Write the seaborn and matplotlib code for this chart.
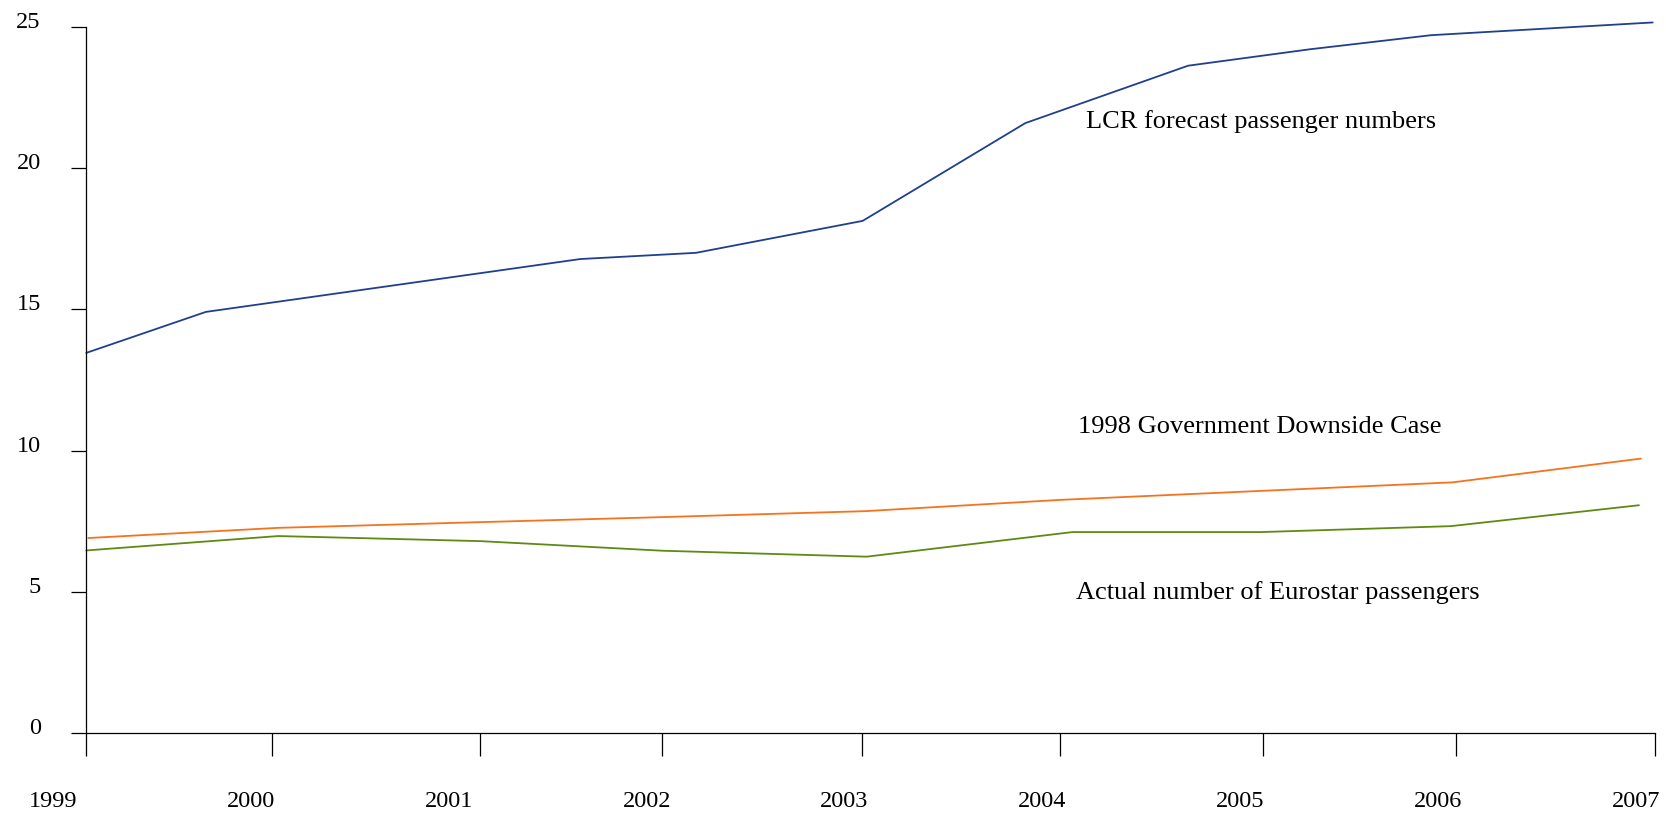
import matplotlib
matplotlib.use("Agg")
import matplotlib.pyplot as plt
import matplotlib.transforms as mtransforms
import seaborn as sns
import pandas as pd

# ---- data ----
years = [1999, 2000, 2001, 2002, 2003, 2004, 2005, 2006, 2007]
year_labels = ["1999", "2000", "2001", "2002", "2003", "2004", "2005", "2006", "2007"]
y_ticks = [0, 5, 10, 15, 20, 25]
y_tick_labels = ["0", "5", "10", "15", "20", "25"]

lcr_x = [1999.0, 1999.61, 2001.52, 2002.11, 2002.96, 2003.79, 2004.62, 2005.24, 2005.86, 2006.99]
lcr_y = [13.46, 14.91, 16.78, 17.00, 18.13, 21.59, 23.62, 24.20, 24.70, 25.15]

gov_x = [1999.01, 1999.98, 2001.00, 2001.94, 2002.97, 2003.97, 2005.00, 2005.97, 2006.93]
gov_y = [6.91, 7.27, 7.47, 7.65, 7.86, 8.26, 8.58, 8.88, 9.72]

act_x = [1999.0, 1999.98, 2001.01, 2001.94, 2002.98, 2004.03, 2004.99, 2005.96, 2006.92]
act_y = [6.47, 6.98, 6.80, 6.46, 6.25, 7.12, 7.12, 7.33, 8.07]

series_names = ["LCR forecast passenger numbers",
                "1998 Government Downside Case",
                "Actual number of Eurostar passengers"]

# ---- layout / style ----
tick_pos = [1999.0, 1999.949, 2001.010, 2001.938, 2002.958, 2003.968, 2005.004, 2005.988, 2007.0]
label_pos = [y - 0.17 + 0.0094 * (y - 1999) for y in years]

sns.set_theme(style="white")
plt.rcParams["font.family"] = ["Liberation Serif", "DejaVu Serif"]

fig = plt.figure(figsize=(16.66, 8.14), dpi=100)
ax = fig.add_axes([0.0518, 0.0991, 0.9414, 0.8681])

colors = ["#213f8f", "#f5731e", "#5e8a12"]
for xs, ys, c in [(lcr_x, lcr_y, colors[0]), (gov_x, gov_y, colors[1]), (act_x, act_y, colors[2])]:
    df = pd.DataFrame({"x": xs, "y": ys})
    sns.lineplot(data=df, x="x", y="y", ax=ax, color=c, linewidth=1.3,
                 estimator=None, sort=False, clip_on=False)

ax.set_xlabel("")
ax.set_ylabel("")

for s in ["top", "right"]:
    ax.spines[s].set_visible(False)
for s in ["left", "bottom"]:
    ax.spines[s].set_color("black")
    ax.spines[s].set_linewidth(0.9)

# x ticks (marks only); year labels are placed separately below
ax.set_xticks(tick_pos)
ax.set_xticklabels([])
ax.tick_params(axis="x", which="major", direction="out", length=16.8, width=0.9,
               color="black", bottom=True)

# y ticks
ax.set_yticks(y_ticks)
ax.set_yticklabels(y_tick_labels, fontsize=17.5, color="black")
ax.tick_params(axis="y", which="major", direction="out", length=10.8, width=0.9,
               color="black", left=True, pad=22)
offset = mtransforms.ScaledTranslation(0, 7 / 100, fig.dpi_scale_trans)
for lab in ax.get_yticklabels():
    lab.set_transform(lab.get_transform() + offset)

ax.set_xlim(1999, 2007)
ax.set_ylim(0, 25)
ax.grid(False)

# year labels
blend = mtransforms.blended_transform_factory(ax.transData, ax.transAxes)
for xp, lab in zip(label_pos, year_labels):
    ax.text(xp, -0.0968, lab, transform=blend, ha="center", va="center",
            fontsize=17.5, color="black", clip_on=False)

# series labels
ax.text(2004.10, 21.40, series_names[0], fontsize=19, color="black", ha="left", va="baseline")
ax.text(2004.06, 10.63, series_names[1], fontsize=19, color="black", ha="left", va="baseline")
ax.text(2004.05, 4.75, series_names[2], fontsize=19, color="black", ha="left", va="baseline")

fig.savefig("out.png", dpi=100, facecolor="white")
